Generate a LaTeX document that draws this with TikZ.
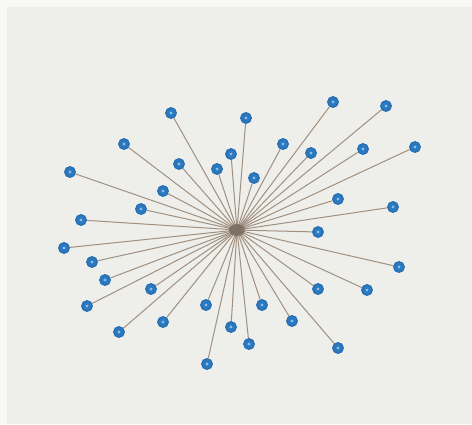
\documentclass[tikz,border=0pt]{standalone}
\usetikzlibrary{calc}
\definecolor{paper}{HTML}{EEEEEA}
\definecolor{nodeblue}{HTML}{2A78BF}
\definecolor{nodering}{HTML}{2068AE}
\definecolor{nodecore}{HTML}{8CBCE4}
\definecolor{spoke}{HTML}{A09080}
\pgfdeclarelayer{bg}
\pgfdeclarelayer{edges}
\pgfsetlayers{bg,edges,main}
\tikzset{
  leaf/.style={circle, minimum size=11pt, inner sep=0pt, fill=nodeblue, draw=nodering, line width=0.8pt,
    path picture={\fill[nodecore] (path picture bounding box.center) circle (1.7pt);}},
  spokeline/.style={draw=spoke, line width=1pt}
}
\begin{document}
\begin{tikzpicture}[x=1pt,y=-1pt]
\begin{pgfonlayer}{bg}
\fill[paper] (0,0) rectangle (472,424);
\fill[white!60!paper] (0,0) rectangle (472,7);
\fill[white!60!paper] (0,0) rectangle (7,424);
\end{pgfonlayer}
\coordinate (c) at (237,230);
\foreach \n/\x/\y in {
 1/171/113, 2/246/118, 3/333/102, 4/386/106, 5/124/144, 6/283/144, 7/363/149,
 8/415/147, 9/231/154, 10/311/153, 11/70/172, 12/179/164, 13/217/169, 14/254/178,
 15/163/191, 16/338/199, 17/141/209, 18/393/207, 19/81/220, 20/318/232, 21/64/248,
 22/92/262, 23/399/267, 24/105/280, 25/151/289, 26/318/289, 27/367/290, 28/87/306,
 29/206/305, 30/262/305, 31/163/322, 32/292/321, 33/231/327, 34/119/332, 35/249/344,
 36/338/348, 37/207/364}{
  \node[leaf] (n\n) at (\x,\y) {};
  \begin{pgfonlayer}{edges}
  \draw[spokeline] (c) -- (n\n);
  \end{pgfonlayer}
}
\begin{pgfonlayer}{edges}
\fill[spoke!60!black, opacity=0.55] (c) ellipse (8pt and 6pt);
\end{pgfonlayer}
\end{tikzpicture}
\end{document}
